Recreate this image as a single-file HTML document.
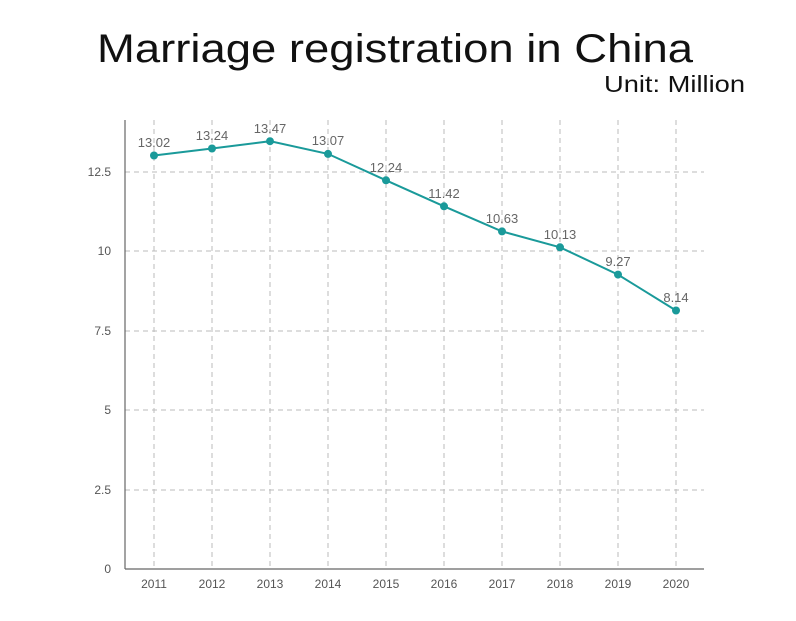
<!DOCTYPE html>
<html><head><meta charset="utf-8"><style>
body{margin:0;background:#fff;width:796px;height:616px;overflow:hidden;font-family:"Liberation Sans",sans-serif;}
</style></head><body>
<svg width="796" height="616" xmlns="http://www.w3.org/2000/svg" font-family="Liberation Sans, sans-serif">
<text x="97" y="62" font-size="40" textLength="596" lengthAdjust="spacingAndGlyphs" fill="#111">Marriage registration in China</text>
<text x="604" y="92" font-size="23" textLength="141" lengthAdjust="spacingAndGlyphs" fill="#111">Unit: Million</text>
<g stroke="#bbb" stroke-dasharray="5,4" stroke-width="1">
<line x1="125" x2="704" y1="172" y2="172"/><line x1="125" x2="704" y1="251" y2="251"/>
<line x1="125" x2="704" y1="331" y2="331"/><line x1="125" x2="704" y1="410" y2="410"/>
<line x1="125" x2="704" y1="490" y2="490"/>
<line x1="154" x2="154" y1="120" y2="569"/><line x1="212" x2="212" y1="120" y2="569"/>
<line x1="270" x2="270" y1="120" y2="569"/><line x1="328" x2="328" y1="120" y2="569"/>
<line x1="386" x2="386" y1="120" y2="569"/><line x1="444" x2="444" y1="120" y2="569"/>
<line x1="502" x2="502" y1="120" y2="569"/><line x1="560" x2="560" y1="120" y2="569"/>
<line x1="618" x2="618" y1="120" y2="569"/><line x1="676" x2="676" y1="120" y2="569"/>
</g>
<line x1="125" y1="120" x2="125" y2="569" stroke="#666" stroke-width="1.2"/>
<line x1="125" y1="569" x2="704" y2="569" stroke="#666" stroke-width="1.2"/>
<g font-size="12" fill="#555" text-anchor="end">
<text x="111" y="176">12.5</text><text x="111" y="255">10</text><text x="111" y="335">7.5</text>
<text x="111" y="414">5</text><text x="111" y="494">2.5</text><text x="111" y="573">0</text>
</g>
<g font-size="12" fill="#555" text-anchor="middle">
<text x="154" y="588">2011</text><text x="212" y="588">2012</text><text x="270" y="588">2013</text>
<text x="328" y="588">2014</text><text x="386" y="588">2015</text><text x="444" y="588">2016</text>
<text x="502" y="588">2017</text><text x="560" y="588">2018</text><text x="618" y="588">2019</text>
<text x="676" y="588">2020</text>
</g>
<polyline fill="none" stroke="#1a9a9a" stroke-width="2" points="154,155.5 212,148.5 270,141.2 328,153.9 386,180.3 444,206.3 502,231.4 560,247.3 618,274.6 676,310.5"/>
<g fill="#1a9a9a">
<circle cx="154" cy="155.5" r="4"/><circle cx="212" cy="148.5" r="4"/><circle cx="270" cy="141.2" r="4"/>
<circle cx="328" cy="153.9" r="4"/><circle cx="386" cy="180.3" r="4"/><circle cx="444" cy="206.3" r="4"/>
<circle cx="502" cy="231.4" r="4"/><circle cx="560" cy="247.3" r="4"/><circle cx="618" cy="274.6" r="4"/>
<circle cx="676" cy="310.5" r="4"/>
</g>
<g font-size="13" fill="#666" text-anchor="middle">
<text x="154" y="147">13.02</text><text x="212" y="140">13.24</text><text x="270" y="133">13.47</text>
<text x="328" y="145">13.07</text><text x="386" y="172">12.24</text><text x="444" y="198">11.42</text>
<text x="502" y="223">10.63</text><text x="560" y="239">10.13</text><text x="618" y="266">9.27</text>
<text x="676" y="302">8.14</text>
</g>
</svg>
</body></html>
